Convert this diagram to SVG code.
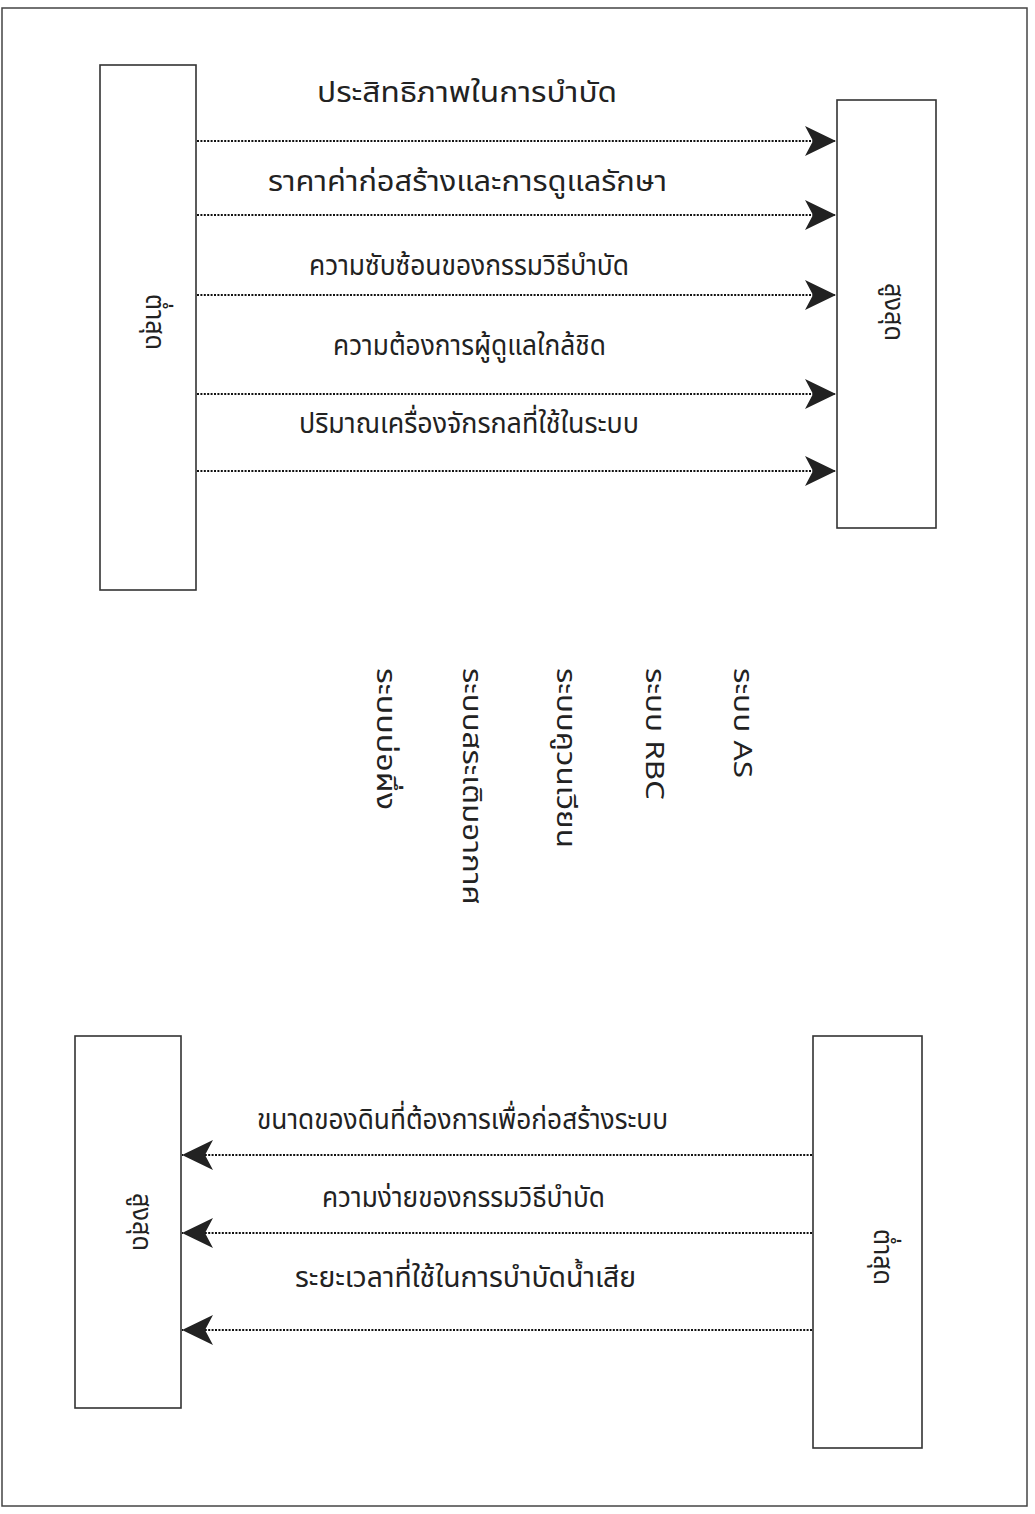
<svg xmlns="http://www.w3.org/2000/svg" width="1035" height="1514" viewBox="0 0 1035 1514">
  <style>
    .frame { fill: none; stroke: #444; stroke-width: 1.5; }
    .box { fill: #fff; stroke: #333; stroke-width: 1.6; }
    .link { fill: none; stroke: #111; stroke-width: 2.2; stroke-dasharray: 2 1.4; }
    .lbl { font-family: "Noto Sans Thai", "Noto Sans", "DejaVu Sans", sans-serif; font-size: 28px; fill: #222; text-anchor: middle; }
    .vlbl { font-family: "Noto Sans Thai", "Noto Sans", "DejaVu Sans", sans-serif; font-size: 26px; fill: #222; }
    .boxlbl { font-family: "Noto Sans Thai", "Noto Sans", "DejaVu Sans", sans-serif; font-size: 27px; fill: #222; text-anchor: middle; }
  </style>
  <defs>
    <marker id="head" markerUnits="userSpaceOnUse" markerWidth="34" markerHeight="34" viewBox="-32 -17 34 34" refX="0" refY="0" orient="auto">
      <path d="M0,0 L-31,-15 L-23,0 L-31,15 Z" fill="#222"/>
    </marker>
  </defs>
  <rect width="1035" height="1514" fill="#fff"/>
  <!-- page frame -->
  <rect class="frame" x="2" y="8" width="1025" height="1498"/>

  <!-- upper scale: lowest to highest -->
  <g id="top-low">
    <rect class="box" x="100" y="65" width="96" height="525"/>
    <text class="boxlbl" transform="translate(146,322) rotate(90)" textLength="56" lengthAdjust="spacingAndGlyphs">ต่ำสุด</text>
  </g>
  <g id="top-high">
    <rect class="box" x="837" y="100" width="99" height="428"/>
    <text class="boxlbl" transform="translate(885,312) rotate(90)" textLength="58" lengthAdjust="spacingAndGlyphs">สูงสุด</text>
  </g>

  <!-- treatment systems -->
  <g id="system-as"><text class="vlbl" transform="translate(734,668) rotate(90)" textLength="110" lengthAdjust="spacingAndGlyphs">ระบบ AS</text></g>
  <g id="system-rbc"><text class="vlbl" transform="translate(646,668) rotate(90)" textLength="132" lengthAdjust="spacingAndGlyphs">ระบบ RBC</text></g>
  <g id="system-od"><text class="vlbl" transform="translate(557,668) rotate(90)" textLength="180" lengthAdjust="spacingAndGlyphs">ระบบคูวนเวียน</text></g>
  <g id="system-al"><text class="vlbl" transform="translate(463,668) rotate(90)" textLength="237" lengthAdjust="spacingAndGlyphs">ระบบสระเติมอากาศ</text></g>
  <g id="system-sp"><text class="vlbl" transform="translate(377,668) rotate(90)" textLength="142" lengthAdjust="spacingAndGlyphs">ระบบบ่อผึ่ง</text></g>

  <!-- lower scale: highest to lowest -->
  <g id="bottom-high">
    <rect class="box" x="75" y="1036" width="106" height="372"/>
    <text class="boxlbl" transform="translate(133,1222) rotate(90)" textLength="58" lengthAdjust="spacingAndGlyphs">สูงสุด</text>
  </g>
  <g id="bottom-low">
    <rect class="box" x="813" y="1036" width="109" height="412"/>
    <text class="boxlbl" transform="translate(874,1257) rotate(90)" textLength="56" lengthAdjust="spacingAndGlyphs">ต่ำสุด</text>
  </g>

  <!-- criteria arrows -->
  <g id="connectors">
    <line class="link" x1="197" y1="141" x2="836" y2="141" marker-end="url(#head)"/>
    <line class="link" x1="197" y1="215" x2="836" y2="215" marker-end="url(#head)"/>
    <line class="link" x1="197" y1="295" x2="836" y2="295" marker-end="url(#head)"/>
    <line class="link" x1="197" y1="394" x2="836" y2="394" marker-end="url(#head)"/>
    <line class="link" x1="197" y1="471" x2="836" y2="471" marker-end="url(#head)"/>
    <line class="link" x1="812" y1="1155" x2="182" y2="1155" marker-end="url(#head)"/>
    <line class="link" x1="812" y1="1233" x2="182" y2="1233" marker-end="url(#head)"/>
    <line class="link" x1="812" y1="1330" x2="182" y2="1330" marker-end="url(#head)"/>
  </g>

  <!-- criteria labels -->
  <g id="labels">
    <text class="lbl" x="467" y="102" textLength="300" lengthAdjust="spacingAndGlyphs">ประสิทธิภาพในการบำบัด</text>
    <text class="lbl" x="467.5" y="191" textLength="399" lengthAdjust="spacingAndGlyphs">ราคาค่าก่อสร้างและการดูแลรักษา</text>
    <text class="lbl" x="469" y="275" textLength="320" lengthAdjust="spacingAndGlyphs">ความซับซ้อนของกรรมวิธีบำบัด</text>
    <text class="lbl" x="469.5" y="355" textLength="273" lengthAdjust="spacingAndGlyphs">ความต้องการผู้ดูแลใกล้ชิด</text>
    <text class="lbl" x="469" y="433" textLength="340" lengthAdjust="spacingAndGlyphs">ปริมาณเครื่องจักรกลที่ใช้ในระบบ</text>
    <text class="lbl" x="462.5" y="1129" textLength="411" lengthAdjust="spacingAndGlyphs">ขนาดของดินที่ต้องการเพื่อก่อสร้างระบบ</text>
    <text class="lbl" x="463.5" y="1207" textLength="283" lengthAdjust="spacingAndGlyphs">ความง่ายของกรรมวิธีบำบัด</text>
    <text class="lbl" x="465.5" y="1287" textLength="341" lengthAdjust="spacingAndGlyphs">ระยะเวลาที่ใช้ในการบำบัดน้ำเสีย</text>
  </g>
</svg>
